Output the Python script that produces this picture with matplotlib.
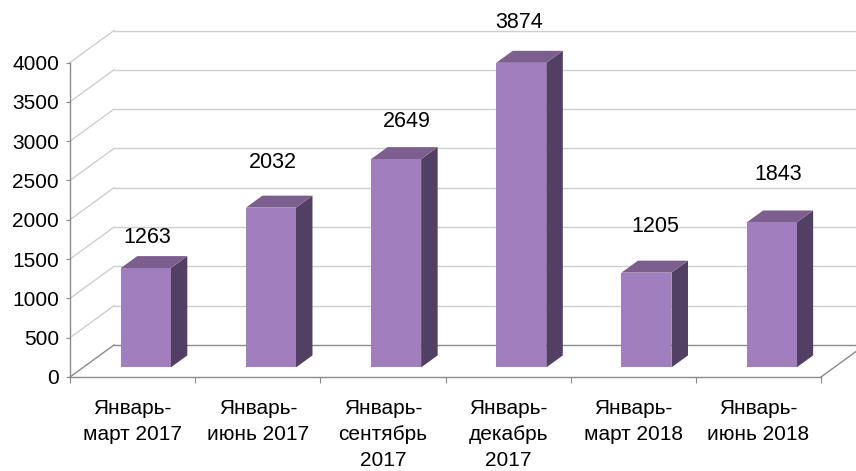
import numpy as np
import matplotlib
matplotlib.use('Agg')
import matplotlib.pyplot as plt
from matplotlib.patches import Polygon

plt.rcParams['font.family'] = ['Liberation Sans', 'DejaVu Sans']

categories = ['Январь-\nмарт 2017', 'Январь-\nиюнь 2017', 'Январь-\nсентябрь\n2017',
              'Январь-\nдекабрь\n2017', 'Январь-\nмарт 2018', 'Январь-\nиюнь 2018']
values = [1263, 2032, 2649, 3874, 1205, 1843]
yticks = [0, 500, 1000, 1500, 2000, 2500, 3000, 3500, 4000]

# label nudges in pixels (dx, dy above the bar top), like excel puts them
label_off = [(1, 31), (2, 45), (11, 38), (-2, 40), (9, 46), (7, 48)]

W, H = 856, 471
fig = plt.figure(figsize=(W / 100, H / 100), dpi=100)
ax = fig.add_axes([70 / W, (H - 377) / H, 751 / W, 314.5 / H])
ax.set_xlim(0, 6)
ax.set_ylim(0, 4000)

# depth of the 3d box in data units
DX = 44 / (751 / 6)
DY = 32 / (314.5 / 4000)

grid_c = '#cfcfcf'
axis_c = '#8a8a8a'

for v in yticks[1:]:
    ax.plot([0, DX], [v, v + DY], color=grid_c, lw=1, clip_on=False, zorder=1)
    ax.plot([DX, 6 + DX + 1], [v + DY, v + DY], color=grid_c, lw=1, clip_on=False, zorder=1)
# floor
ax.plot([0, DX], [0, DY], color=axis_c, lw=1, clip_on=False, zorder=1)
ax.plot([DX, 6 + DX], [DY, DY], color=axis_c, lw=1, clip_on=False, zorder=1)
ax.plot([6, 6 + DX], [0, DY], color=axis_c, lw=1, clip_on=False, zorder=1)

front_c = '#a17fbf'
top_c = '#7c5f8e'
side_c = '#524064'
d0, d1 = 0.30, 0.675
bw = 0.4

for i, v in enumerate(values):
    x0 = i + 0.5 - bw / 2
    x1 = i + 0.5 + bw / 2
    sx0, sy0 = d0 * DX, d0 * DY
    sx1, sy1 = d1 * DX, d1 * DY
    side = [(x1 + sx0, sy0), (x1 + sx1, sy1), (x1 + sx1, v + sy1), (x1 + sx0, v + sy0)]
    top = [(x0 + sx0, v + sy0), (x1 + sx0, v + sy0), (x1 + sx1, v + sy1), (x0 + sx1, v + sy1)]
    front = [(x0 + sx0, sy0), (x1 + sx0, sy0), (x1 + sx0, v + sy0), (x0 + sx0, v + sy0)]
    for pts, c in [(side, side_c), (top, top_c), (front, front_c)]:
        ax.add_patch(Polygon(pts, closed=True, facecolor=c, edgecolor='none',
                             clip_on=False, zorder=3))
    dx, dy = label_off[i]
    ax.annotate(str(v), xy=(i + 0.5 + sx0, v + sy0),
                xytext=(dx * 0.72, dy * 0.72), textcoords='offset points',
                ha='center', va='center', fontsize=15.5, color='black', zorder=4)

for s in ['top', 'right']:
    ax.spines[s].set_visible(False)
for s in ['left', 'bottom']:
    ax.spines[s].set_color(axis_c)
    ax.spines[s].set_linewidth(1)
    ax.spines[s].set_zorder(2)

ax.set_yticks(yticks)
ax.set_yticklabels([str(t) for t in yticks])
ax.tick_params(axis='y', length=3, color=axis_c, labelsize=15, pad=5)

ax.set_xticks(np.arange(0, 7))
ax.set_xticklabels([])
ax.tick_params(axis='x', which='major', length=4, color=axis_c)
ax.set_xticks(np.arange(6) + 0.5, minor=True)
ax.set_xticklabels(categories, minor=True, fontsize=15, linespacing=1.45)
ax.tick_params(axis='x', which='minor', length=0, pad=16)

ax.patch.set_visible(False)
fig.savefig('out.png', dpi=100)
